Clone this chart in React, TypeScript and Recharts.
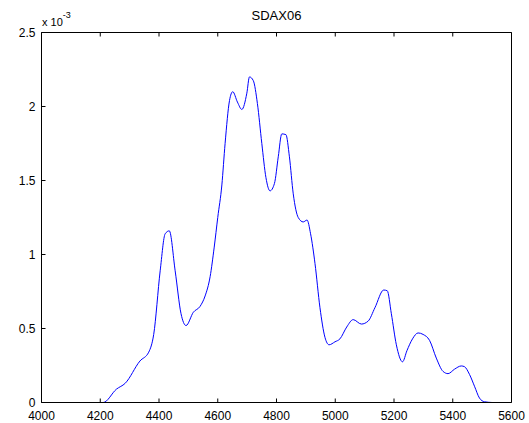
import { LineChart, Line, XAxis, YAxis } from "recharts";

// wavelength (x) and intensity in units of 10^-3 (y)
const wavelength = [
  4170, 4210, 4255, 4285, 4335, 4365, 4382, 4404, 4421, 4435, 4455, 4475, 4492, 4517, 4540, 4557,
  4574, 4588, 4600, 4614, 4625, 4640, 4651, 4667, 4682, 4699, 4708, 4721, 4735, 4750, 4764, 4778,
  4793, 4806, 4818, 4832, 4844, 4857, 4874, 4891, 4904, 4916, 4931, 4948, 4965, 4979, 4999, 5016,
  5039, 5061, 5089, 5112, 5135, 5165, 5177, 5191, 5208, 5229, 5244, 5263, 5282, 5299, 5321, 5344,
  5367, 5384, 5406, 5429, 5440, 5457, 5474, 5491, 5508, 5534,
];
const intensity = [
  0, 0, 0.09, 0.13, 0.28, 0.34, 0.46, 0.89, 1.14, 1.16, 0.89, 0.6, 0.52, 0.61, 0.65, 0.72,
  0.85, 1.05, 1.25, 1.47, 1.75, 2.04, 2.1, 2.03, 1.98, 2.09, 2.2, 2.175, 2.02, 1.75, 1.52, 1.43,
  1.48, 1.66, 1.815, 1.81, 1.66, 1.41, 1.25, 1.22, 1.233, 1.14, 0.94, 0.64, 0.44, 0.39, 0.41, 0.43,
  0.51, 0.56, 0.53, 0.55, 0.64, 0.76, 0.755, 0.6, 0.39, 0.275, 0.35, 0.43, 0.47, 0.46, 0.42, 0.3,
  0.21, 0.195, 0.225, 0.247, 0.242, 0.19, 0.11, 0.03, 0.005, 0,
];
const xTicks = [4000, 4200, 4400, 4600, 4800, 5000, 5200, 5400, 5600];
const yTicks = [0, 0.5, 1, 1.5, 2, 2.5];
const title = "SDAX06";

const data = wavelength.map((w, i) => ({ w, v: intensity[i] }));

const FONT = "'Liberation Sans', Arial, sans-serif";
const TICK = 4;

const BottomTick = (p: any) => (
  <g>
    <line x1={p.x} y1={p.y} x2={p.x} y2={p.y - TICK} stroke="#000" />
    <text x={p.x} y={p.y + 17} textAnchor="middle" fontSize={12} fontFamily={FONT} fill="#000">
      {p.payload.value}
    </text>
  </g>
);
const TopTick = (p: any) => <line x1={p.x} y1={p.y} x2={p.x} y2={p.y + TICK} stroke="#000" />;
const LeftTick = (p: any) => (
  <g>
    <line x1={p.x} y1={p.y} x2={p.x + TICK} y2={p.y} stroke="#000" />
    <text x={p.x - 6} y={p.y + 4} textAnchor="end" fontSize={12} fontFamily={FONT} fill="#000">
      {String(p.payload.value)}
    </text>
  </g>
);
const RightTick = (p: any) => <line x1={p.x} y1={p.y} x2={p.x - TICK} y2={p.y} stroke="#000" />;

export default function App() {
  return (
    <div style={{ position: "absolute", left: 0, top: 0, width: 529, height: 423, background: "#fff" }}>
      <LineChart
        width={529}
        height={423}
        data={data}
        margin={{ top: 31.5, left: 40.5, right: 16.5, bottom: 19.5 }}
      >
        <XAxis
          dataKey="w"
          type="number"
          domain={[4000, 5600]}
          ticks={xTicks}
          height={1}
          tickSize={0}
          tickMargin={0}
          tickLine={false}
          tick={BottomTick}
          axisLine={{ stroke: "#000" }}
          interval={0}
        />
        <XAxis
          xAxisId="top"
          orientation="top"
          dataKey="w"
          type="number"
          domain={[4000, 5600]}
          ticks={xTicks}
          height={1}
          tickSize={0}
          tickMargin={0}
          tickLine={false}
          tick={TopTick}
          axisLine={{ stroke: "#000" }}
          interval={0}
        />
        <YAxis
          type="number"
          domain={[0, 2.5]}
          ticks={yTicks}
          width={1}
          tickSize={0}
          tickMargin={0}
          tickLine={false}
          tick={LeftTick}
          axisLine={{ stroke: "#000" }}
          interval={0}
        />
        <YAxis
          yAxisId="right"
          orientation="right"
          type="number"
          domain={[0, 2.5]}
          ticks={yTicks}
          width={1}
          tickSize={0}
          tickMargin={0}
          tickLine={false}
          tick={RightTick}
          axisLine={{ stroke: "#000" }}
          interval={0}
        />
        <Line
          dataKey="v"
          type="monotone"
          stroke="#0000ff"
          strokeWidth={1}
          dot={false}
          isAnimationActive={false}
        />
      </LineChart>
      <svg
        width={529}
        height={423}
        style={{ position: "absolute", left: 0, top: 0, pointerEvents: "none" }}
      >
        <text x={276.5} y={20} textAnchor="middle" fontSize={13} fontFamily={FONT} fill="#000">
          {title}
        </text>
        <text x={42} y={26} fontSize={11} fontFamily={FONT} fill="#000">
          x 10
          <tspan fontSize={9} dy={-8}>-3</tspan>
        </text>
      </svg>
    </div>
  );
}
